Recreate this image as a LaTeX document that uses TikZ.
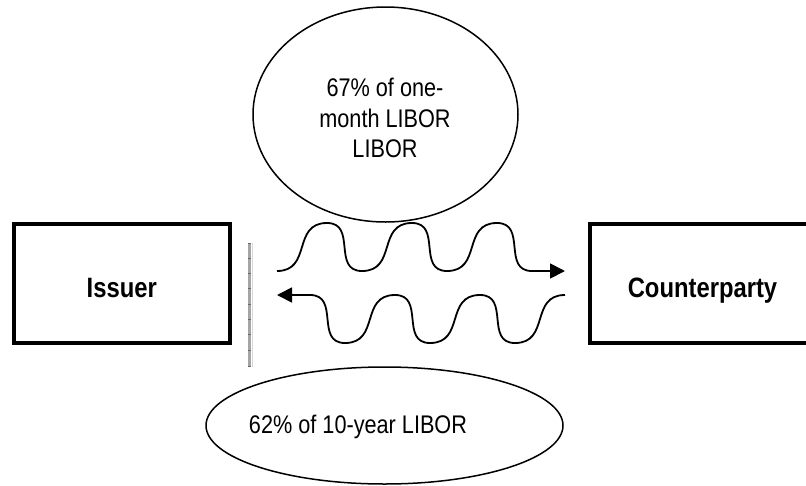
\documentclass[tikz,border=0pt]{standalone}
\usepackage{fontspec}
\setmainfont{Liberation Sans}[FakeStretch=0.85]
\usetikzlibrary{arrows.meta}
\tikzset{>={Triangle[length=15pt,width=15pt]}}
\definecolor{bargray}{RGB}{165,165,165}
\definecolor{barlight}{RGB}{215,215,215}
\definecolor{tickgray}{RGB}{105,105,105}
\newcommand{\ratefont}{\fontsize{25.5}{30.5}\selectfont}
\newcommand{\partyfont}{\fontsize{28}{32}\selectfont\bfseries}
\def\boxthickness{4pt}
\def\wavethickness{1.8pt}

\begin{document}
\begin{tikzpicture}[x=1pt, y=-1pt,
    party/.style={draw, line width=\boxthickness, minimum width=215.5pt, minimum height=119pt,
        text height=27pt, text depth=0pt, inner sep=0pt, font=\partyfont},
    rate/.style={align=center, font=\ratefont, inner sep=0pt},
    wave/.style={->, line width=\wavethickness, looseness=1.3}]
    \useasboundingbox (0,0) rectangle (806,485);
    \clip (0,0) rectangle (806,485);
    % the two parties
    \node[party] (issuer) at (121.75, 283.5) {Issuer};
    \node[party, minimum width=226pt] (counter) at (702.5, 283.5) {Counterparty};
    % floating and fixed legs
    \draw[line width=1.5pt] (385.5, 114.5) ellipse (132.5 and 107.5);
    \node[rate] (floatleg) at (385, 118) {67\% of one-\\month LIBOR\\LIBOR};
    \draw[line width=1.5pt] (384.5, 425.5) ellipse (178.5 and 58.5);
    \node[rate, anchor=base] (fixedleg) at (358, 433) {62\% of 10-year LIBOR};
    % wavy payment arrows
    \coordinate (recvstart) at (277, 271);
    \coordinate (recvend) at (565, 271);
    \coordinate (paystart) at (565, 295);
    \coordinate (payend) at (277, 295);
    \draw[wave, out=0, in=180] (recvstart) to (327, 223) to (362, 271) to (412, 223)
        to (447, 271) to (497, 223) to (532, 271) -- (recvend);
    \draw[wave, out=180, in=0] (paystart) to (515, 343) to (480, 295) to (430, 343)
        to (395, 295) to (345, 343) to (310, 295) -- (payend);
    % gray bar beside the issuer
    \fill[bargray] (247.5, 243) rectangle (251, 367);
    \draw[barlight, line width=1pt] (252.5, 243) -- (252.5, 367);
    \foreach \y in {243.5, 258, 273, 288, 304, 319, 334, 350, 366} {
        \draw[tickgray, line width=0.8pt] (247.5, \y) -- (251, \y);
    }
\end{tikzpicture}
\end{document}
